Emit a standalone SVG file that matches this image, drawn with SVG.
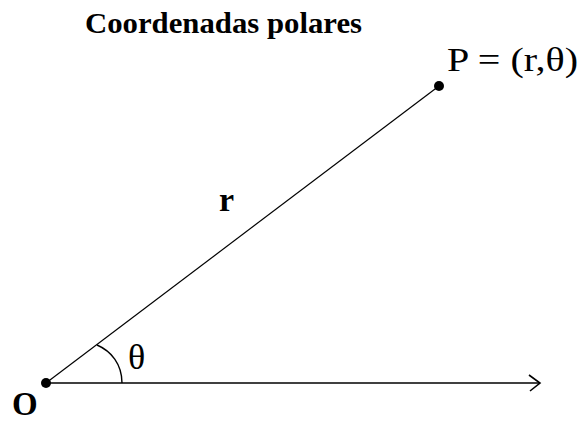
<svg xmlns="http://www.w3.org/2000/svg" width="586" height="421" viewBox="0 0 586 421">
<style>
.t{font-family:"Liberation Serif","Times New Roman",serif;fill:#000}
.ln{stroke:#000;fill:none}
</style>
<rect width="586" height="421" fill="#fff"/>
<text id="title" class="t" x="85" y="33" font-size="30" font-weight="bold" textLength="277" lengthAdjust="spacingAndGlyphs">Coordenadas polares</text>
<g id="connectors">
<line class="ln" x1="46" y1="383" x2="439" y2="86" stroke-width="1.2"/>
<line class="ln" x1="46" y1="383" x2="540" y2="383" stroke-width="1.6"/>
<polyline class="ln" points="529,375 540,383 530,391" stroke-width="1.6"/>
<path class="ln" d="M97,345 C111,351 122,364 122,383" stroke-width="1.4"/>
</g>
<g id="O">
<circle cx="46" cy="383" r="5" fill="#000"/>
<text class="t" x="12" y="415" font-size="33" font-weight="bold">O</text>
</g>
<g id="P">
<circle cx="439" cy="86" r="5" fill="#000"/>
<text class="t" x="447" y="71" font-size="33" textLength="131" lengthAdjust="spacingAndGlyphs">P = (r,θ)</text>
</g>
<g id="r-label"><text class="t" x="219" y="211" font-size="34" font-weight="bold">r</text></g>
<g id="theta-label"><text class="t" x="128" y="369" font-size="36">θ</text></g>
</svg>
